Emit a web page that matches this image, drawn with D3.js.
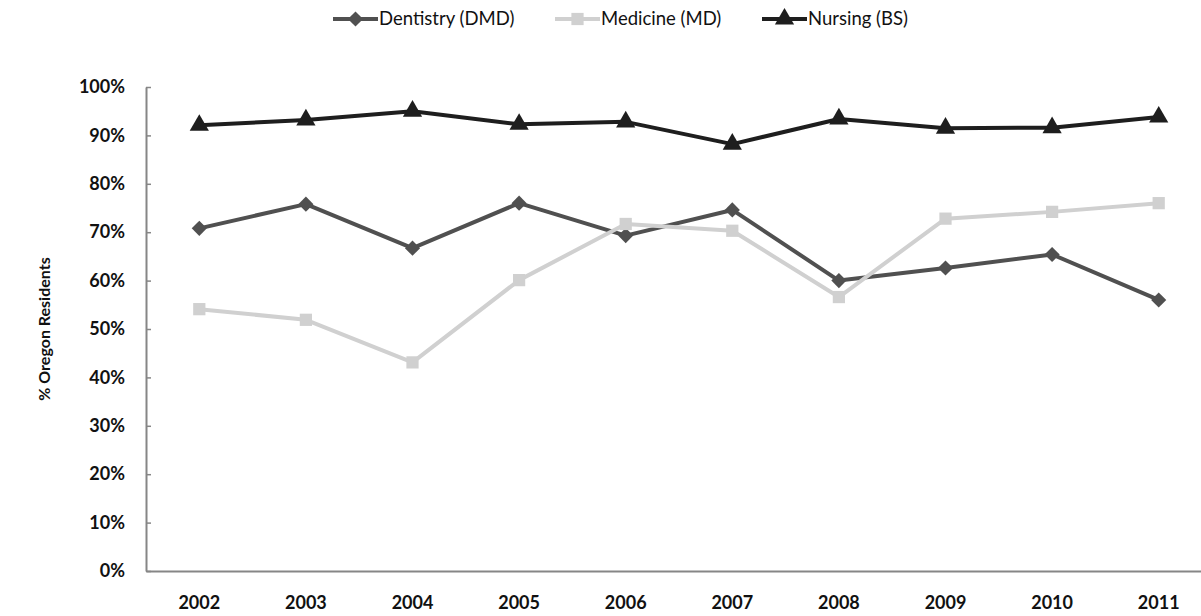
<!DOCTYPE html>
<html>
<head>
<meta charset="utf-8">
<script src="https://cdn.jsdelivr.net/npm/d3@7"></script>
<style>
  body { margin: 0; background: #fff; }
  svg { display: block; font-family: Lato, "Open Sans", sans-serif; }
</style>
</head>
<body>
<svg id="chart" width="1201" height="616"></svg>
<script>
const YEARS = ["2002", "2003", "2004", "2005", "2006", "2007", "2008", "2009", "2010", "2011"];
const dentistry = [70.8, 75.8, 66.7, 76.0, 69.3, 74.6, 60.0, 62.6, 65.4, 56.0];
const medicine = [54.1, 51.9, 43.1, 60.1, 71.7, 70.3, 56.6, 72.8, 74.2, 76.0];
const nursing = [92.1, 93.2, 95.0, 92.3, 92.8, 88.2, 93.4, 91.5, 91.6, 93.8];
const Y_TICKS = [0, 10, 20, 30, 40, 50, 60, 70, 80, 90, 100];

const SERIES = [
  { name: "Dentistry (DMD)", values: dentistry, color: "#505050", shape: "diamond" },
  { name: "Medicine (MD)", values: medicine, color: "#d0d0d0", shape: "square" },
  { name: "Nursing (BS)", values: nursing, color: "#1e1e1e", shape: "triangle" }
];

const margin = { top: 87, right: -11, bottom: 45, left: 146 };
const width = 1201, height = 616;

const svg = d3.select("#chart");

const x = d3.scaleBand()
  .domain(YEARS)
  .range([margin.left, width - margin.right])
  .padding(0);

const y = d3.scaleLinear()
  .domain([0, 100])
  .range([height - margin.bottom, margin.top]);

const cx = d => x(d) + x.bandwidth() / 2;

// marker path for each shape
const markerPath = shape => {
  if (shape === "diamond") return d3.symbol(d3.symbolSquare, 115)();
  if (shape === "square") return d3.symbol(d3.symbolSquare, 150)();
  return d3.symbol(d3.symbolTriangle, 160)();
};
const markerRot = shape => shape === "diamond" ? 45 : 0;

// y axis
const yAxis = svg.append("g")
  .attr("transform", `translate(${margin.left},0)`)
  .call(d3.axisLeft(y).tickValues(Y_TICKS).tickFormat(d => d + "%").tickSizeInner(-5).tickSizeOuter(0).tickPadding(21));
yAxis.select(".domain").attr("stroke", "#868686").attr("stroke-width", 2);
yAxis.selectAll(".tick line").attr("stroke", "#868686").attr("stroke-width", 1.5);
yAxis.selectAll(".tick text")
  .attr("font-size", 18).attr("font-weight", "bold").attr("fill", "#111")
  .attr("font-family", "Lato, sans-serif");

// x axis
const xAxis = svg.append("g")
  .attr("transform", `translate(0,${y(0)})`)
  .call(d3.axisBottom(x).tickSize(0).tickPadding(25));
xAxis.select(".domain").attr("stroke", "#868686").attr("stroke-width", 2);
xAxis.selectAll(".tick text")
  .attr("font-size", 18).attr("font-weight", "bold").attr("fill", "#111")
  .attr("font-family", "Lato, sans-serif");

// axis title
svg.append("text")
  .attr("transform", `translate(50,${(y(0) + y(100)) / 2}) rotate(-90)`)
  .attr("text-anchor", "middle")
  .attr("font-size", 16).attr("font-weight", "bold").attr("fill", "#111")
  .text("% Oregon Residents");

// lines + markers
const line = d3.line()
  .x((d, i) => cx(YEARS[i]))
  .y(d => y(d));

SERIES.forEach(s => {
  svg.append("path")
    .datum(s.values)
    .attr("fill", "none")
    .attr("stroke", s.color)
    .attr("stroke-width", 4)
    .attr("stroke-linejoin", "round")
    .attr("d", line);

  svg.append("g").selectAll("path")
    .data(s.values)
    .join("path")
    .attr("d", markerPath(s.shape))
    .attr("fill", s.color)
    .attr("transform", (d, i) => `translate(${cx(YEARS[i])},${y(d)}) rotate(${markerRot(s.shape)})`);
});

// legend
const legendX = [333, 555, 762];
const legend = svg.append("g");
SERIES.forEach((s, i) => {
  const g = legend.append("g").attr("transform", `translate(${legendX[i]},19)`);
  g.append("line")
    .attr("x1", 0).attr("x2", 45)
    .attr("stroke", s.color).attr("stroke-width", 4);
  g.append("path")
    .attr("d", markerPath(s.shape))
    .attr("fill", s.color)
    .attr("transform", `translate(22.5,0) rotate(${markerRot(s.shape)})`);
  g.append("text")
    .attr("x", 46).attr("dy", "0.35em")
    .attr("font-size", 18.5).attr("fill", "#111")
    .text(s.name);
});
</script>
</body>
</html>
